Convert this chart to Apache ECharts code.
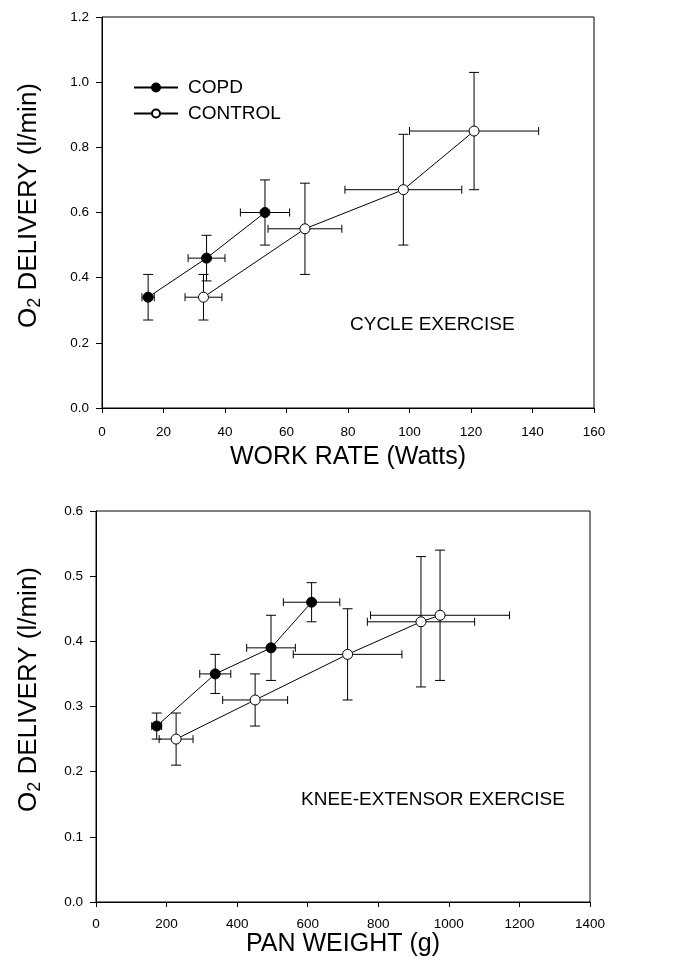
<!DOCTYPE html>
<html>
<head>
<meta charset="utf-8">
<script src="https://cdn.jsdelivr.net/npm/echarts@6/dist/echarts.min.js"></script>
<style>
  html, body { margin: 0; padding: 0; background: #fff; }
  #chart { width: 682px; height: 976px; }
</style>
</head>
<body>
<div id="chart"></div>
<script>
// ---- Cycle exercise (top panel) ----
var cycleCopdX    = [15, 34, 53];
var cycleCopdY    = [0.34, 0.46, 0.60];
var cycleCopdXErr = [2, 6, 8];
var cycleCopdYErr = [0.07, 0.07, 0.10];

var cycleCtrlX    = [33, 66, 98, 121];
var cycleCtrlY    = [0.34, 0.55, 0.67, 0.85];
var cycleCtrlXErr = [6, 12, 19, 21];
var cycleCtrlYErr = [0.07, 0.14, 0.17, 0.18];

// ---- Knee-extensor exercise (bottom panel) ----
var kneeCopdX    = [172, 338, 496, 611];
var kneeCopdY    = [0.27, 0.35, 0.39, 0.46];
var kneeCopdXErr = [14, 44, 69, 80];
var kneeCopdYErr = [0.02, 0.03, 0.05, 0.03];

var kneeCtrlX    = [227, 451, 713, 921, 975];
var kneeCtrlY    = [0.25, 0.31, 0.38, 0.43, 0.44];
var kneeCtrlXErr = [48, 92, 154, 152, 197];
var kneeCtrlYErr = [0.04, 0.04, 0.07, 0.10, 0.10];

// ---- Axis texts ----
var seriesNames = ['COPD', 'CONTROL'];
var cycleXTitle = 'WORK RATE (Watts)';
var kneeXTitle = 'PAN WEIGHT (g)';
var yTitleParts = ['O', '2', ' DELIVERY (l/min)'];
var cycleNote = 'CYCLE EXERCISE';
var kneeNote = 'KNEE-EXTENSOR EXERCISE';

function pts(xs, ys) { return xs.map(function (x, i) { return [x, ys[i]]; }); }
function errPts(xs, ys, ex, ey) { return xs.map(function (x, i) { return [x, ys[i], ex[i], ey[i]]; }); }

var FONT = 'Liberation Sans, Arial, sans-serif';

function errorSeries(data, gi) {
  return {
    type: 'custom',
    xAxisIndex: gi, yAxisIndex: gi,
    silent: true, z: 1,
    encode: { x: 0, y: 1 },
    data: data,
    renderItem: function (params, api) {
      var x = api.value(0), y = api.value(1), ex = api.value(2), ey = api.value(3);
      var l = api.coord([x - ex, y]), r = api.coord([x + ex, y]);
      var t = api.coord([x, y + ey]), b = api.coord([x, y - ey]);
      var hc = 4, vc = 5;
      var st = { stroke: '#000', lineWidth: 1 };
      function ln(x1, y1, x2, y2) { return { type: 'line', shape: { x1: x1, y1: y1, x2: x2, y2: y2 }, style: st }; }
      return { type: 'group', children: [
        ln(l[0], l[1], r[0], r[1]),
        ln(l[0], l[1] - hc, l[0], l[1] + hc),
        ln(r[0], r[1] - hc, r[0], r[1] + hc),
        ln(t[0], t[1], b[0], b[1]),
        ln(t[0] - vc, t[1], t[0] + vc, t[1]),
        ln(b[0] - vc, b[1], b[0] + vc, b[1])
      ]};
    }
  };
}

function lineSeries(name, data, gi, filled) {
  return {
    name: name, type: 'line', xAxisIndex: gi, yAxisIndex: gi,
    data: data, z: 3,
    symbol: 'circle', symbolSize: 10, showSymbol: true,
    lineStyle: { color: '#000', width: 1 },
    itemStyle: { color: filled ? '#000' : '#fff', borderColor: '#000', borderWidth: 1 },
    animation: false
  };
}

var yRich = {
  a: { fontSize: 26, fontFamily: FONT, color: '#000' },
  s: { fontSize: 18, fontFamily: FONT, color: '#000', padding: [12, 0, 0, 0] }
};
var yName = '{a|' + yTitleParts[0] + '}{s|' + yTitleParts[1] + '}{a|' + yTitleParts[2] + '}';

function xAxis(gi, max, interval, title, margin, gap) {
  return {
    gridIndex: gi, type: 'value', min: 0, max: max, interval: interval,
    name: title, nameLocation: 'middle', nameGap: gap,
    nameTextStyle: { fontSize: 25, fontFamily: FONT, color: '#000' },
    axisLine: { show: true, lineStyle: { color: '#000', width: 1 } },
    axisTick: { show: true, inside: false, length: 5, lineStyle: { color: '#000' } },
    axisLabel: { fontSize: 13.5, fontFamily: FONT, color: '#000', margin: margin,
      formatter: function (v) { return String(v); } },
    splitLine: { show: false }
  };
}
function yAxis(gi, max, interval, decimals, gap, pad) {
  return {
    gridIndex: gi, type: 'value', min: 0, max: max, interval: interval,
    name: yName, nameLocation: 'middle', nameGap: gap,
    nameTextStyle: { rich: yRich, padding: [0, 0, 0, pad] },
    axisLine: { show: true, lineStyle: { color: '#000', width: 1 } },
    axisTick: { show: true, inside: false, length: 6, lineStyle: { color: '#000' } },
    axisLabel: { fontSize: 13.5, fontFamily: FONT, color: '#000', margin: 13,
      formatter: function (v) { return v.toFixed(decimals); } },
    splitLine: { show: false }
  };
}

var option = {
  backgroundColor: '#fff',
  animation: false,
  grid: [
    { left: 102, right: 88, top: 17, height: 391, show: true, borderColor: '#000', borderWidth: 1, backgroundColor: 'transparent' },
    { left: 96, right: 92, top: 511, height: 391, show: true, borderColor: '#000', borderWidth: 1, backgroundColor: 'transparent' }
  ],
  legend: {
    data: seriesNames, orient: 'vertical', left: 133, top: 78, padding: 0,
    itemWidth: 44, itemHeight: 10, itemGap: 7,
    textStyle: { fontSize: 19, fontFamily: FONT, color: '#000', padding: [0, 0, 0, 5] },
    selectedMode: false
  },
  xAxis: [
    xAxis(0, 160, 20, cycleXTitle, 17, 37),
    xAxis(1, 1400, 200, kneeXTitle, 15, 26)
  ],
  yAxis: [
    yAxis(0, 1.2, 0.2, 1, 58, 14),
    yAxis(1, 0.6, 0.1, 1, 52, 34)
  ],
  graphic: [
    { type: 'text', left: 350, top: 315, style: { text: cycleNote, fontSize: 19, fontFamily: FONT, fill: '#000' } },
    { type: 'text', left: 301, top: 790, style: { text: kneeNote, fontSize: 19, fontFamily: FONT, fill: '#000' } }
  ],
  series: [
    errorSeries(errPts(cycleCopdX, cycleCopdY, cycleCopdXErr, cycleCopdYErr), 0),
    errorSeries(errPts(cycleCtrlX, cycleCtrlY, cycleCtrlXErr, cycleCtrlYErr), 0),
    lineSeries('COPD', pts(cycleCopdX, cycleCopdY), 0, true),
    lineSeries('CONTROL', pts(cycleCtrlX, cycleCtrlY), 0, false),
    errorSeries(errPts(kneeCopdX, kneeCopdY, kneeCopdXErr, kneeCopdYErr), 1),
    errorSeries(errPts(kneeCtrlX, kneeCtrlY, kneeCtrlXErr, kneeCtrlYErr), 1),
    lineSeries('COPD', pts(kneeCopdX, kneeCopdY), 1, true),
    lineSeries('CONTROL', pts(kneeCtrlX, kneeCtrlY), 1, false)
  ]
};

var chart = echarts.init(document.getElementById('chart'), null, { renderer: 'canvas' });
chart.setOption(option);
</script>
</body>
</html>
